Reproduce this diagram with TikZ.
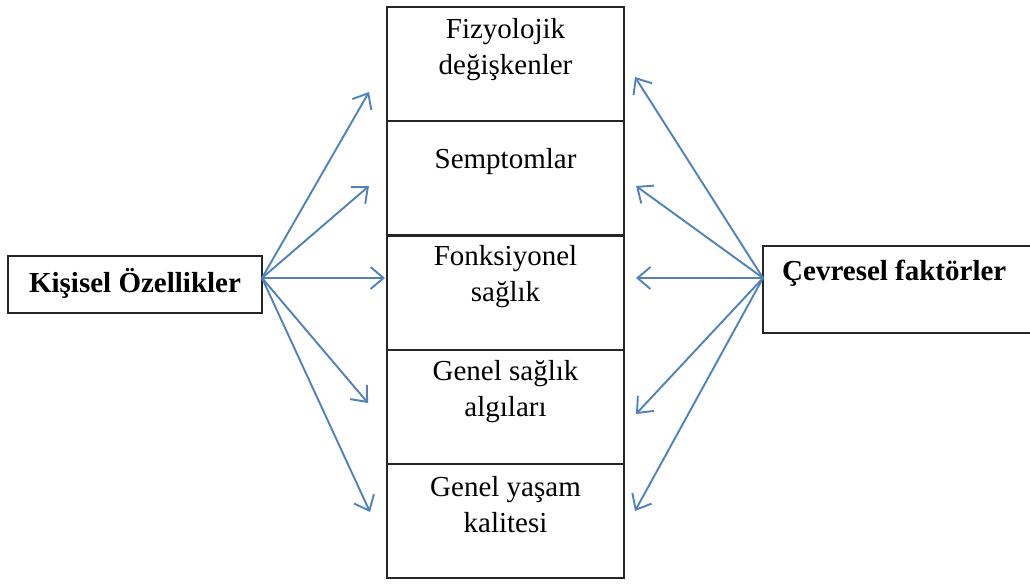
\documentclass[tikz,border=0pt]{standalone}
\usepackage{fontspec}
\setmainfont{Liberation Serif}
\usetikzlibrary{arrows.meta}
\definecolor{arrowblue}{RGB}{79,129,189}
\begin{document}
\begin{tikzpicture}[x=1pt,y=-1pt,
  cellbox/.style={draw=black!85, line width=2.2pt, minimum width=237pt, minimum height=114.2pt, inner sep=0pt},
  sidebox/.style={draw=black!85, line width=2.2pt, inner sep=0pt},
  celltext/.style={font=\fontsize{29}{36}\selectfont, align=center, text=black, inner sep=0pt},
  sidetext/.style={font=\fontsize{29}{36}\selectfont\bfseries, text=black, inner sep=0pt},
  link/.style={draw=arrowblue, line width=1.9pt, -{Straight Barb[length=13pt,width=22pt,line width=1.9pt]}}]
\useasboundingbox (0,0) rectangle (1030,584);

% central column of five stacked cells
\node[cellbox] (c1) at (505.5, 64.1) {};
\node[cellbox] (c2) at (505.5,178.3) {};
\node[cellbox] (c3) at (505.5,292.5) {};
\node[cellbox] (c4) at (505.5,406.7) {};
\node[cellbox] (c5) at (505.5,520.9) {};

\node[celltext] (t1) at (505.5, 50) {Fizyolojik\\değişkenler};
\node[celltext] (t2) at (505.5,162) {Semptomlar};
\node[celltext] (t3) at (505.5,277) {Fonksiyonel\\sağlık};
\node[celltext] (t4) at (505.5,392) {Genel sağlık\\algıları};
\node[celltext] (t5) at (505.5,505) {Genel yaşam\\kalitesi};

% side boxes
\draw[sidebox] (8,256) rectangle (262,313);
\node[sidetext] (left) at (135,283) {Kişisel Özellikler};
\coordinate (lsrc) at (262,278);

\draw[sidebox] (763,246) rectangle (1040,333);
\node[sidetext, anchor=west] (right) at (782,273) {Çevresel faktörler};
\coordinate (rsrc) at (763,278);

% arrow targets in front of the cells
\coordinate (l1) at (369, 92);
\coordinate (l2) at (369,186);
\coordinate (l3) at (385,278);
\coordinate (l4) at (368,403);
\coordinate (l5) at (370,512);
\coordinate (r1) at (635, 77);
\coordinate (r2) at (636,186);
\coordinate (r3) at (636,278);
\coordinate (r4) at (636,414);
\coordinate (r5) at (635,511);

\foreach \i in {1,...,5} {
  \draw[link] (lsrc) -- (l\i);
  \draw[link] (rsrc) -- (r\i);
}
\end{tikzpicture}
\end{document}
